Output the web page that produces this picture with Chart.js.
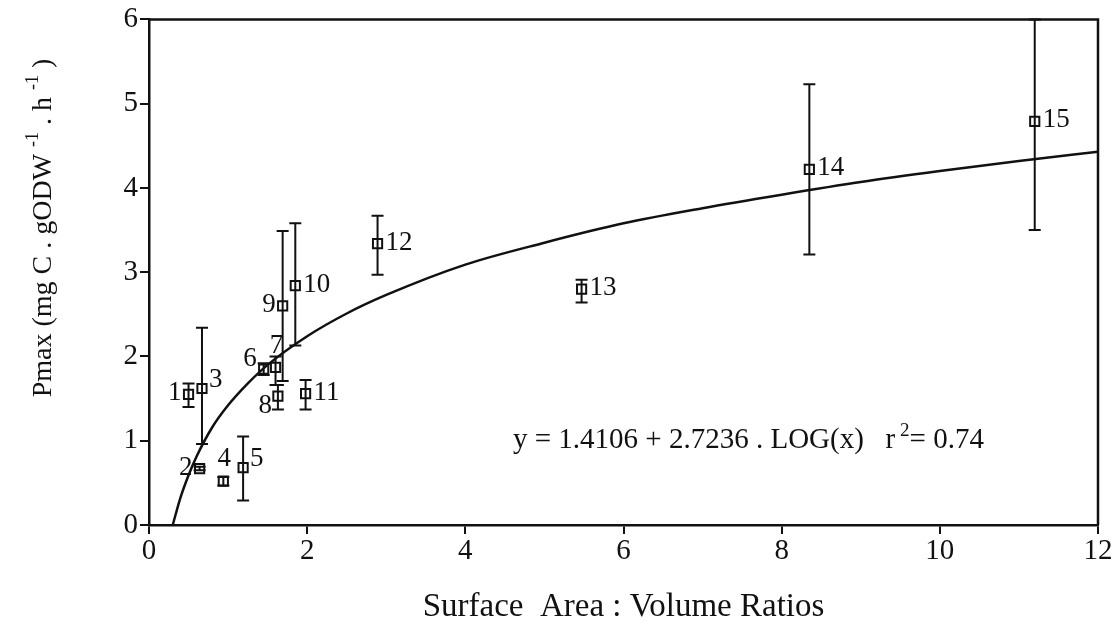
<!DOCTYPE html>
<html>
<head>
<meta charset="utf-8">
<script src="https://cdn.jsdelivr.net/npm/chart.js@4/dist/chart.umd.min.js"></script>
<style>
  html, body { margin: 0; padding: 0; background: #fff; }
  #wrap { width: 1115px; height: 631px; }
</style>
</head>
<body>
<div id="wrap"><canvas id="chart" width="1115" height="631"></canvas></div>
<script>
// sample numbers 1..15
const sampleIds = ['1', '2', '3', '4', '5', '6', '7', '8', '9', '10', '11', '12', '13', '14', '15'];
const saRatios = [0.50, 0.64, 0.67, 0.94, 1.19, 1.45, 1.60, 1.63, 1.69, 1.85, 1.98, 2.89, 5.47, 8.35, 11.20];
const pmaxValues = [1.55, 0.67, 1.62, 0.52, 0.68, 1.85, 1.87, 1.53, 2.60, 2.84, 1.56, 3.34, 2.80, 4.22, 4.79];
const pmaxHigh = [1.68, 0.69, 2.34, 0.57, 1.05, 1.92, 2.00, 1.66, 3.49, 3.58, 1.72, 3.67, 2.91, 5.23, 6.00];
const pmaxLow = [1.40, 0.65, 0.96, 0.47, 0.29, 1.78, 1.66, 1.37, 1.71, 2.13, 1.37, 2.97, 2.64, 3.21, 3.50];

// fitted curve
const fitX = [0.3, 0.4, 0.5, 0.6, 0.8, 1.0, 1.25, 1.5, 2, 2.5, 3, 4, 5, 6, 7, 8, 9, 10, 11, 12];
const fitY = [0.0, 0.33, 0.59, 0.81, 1.16, 1.42, 1.68, 1.90, 2.24, 2.51, 2.73, 3.09, 3.35, 3.58, 3.76, 3.92, 4.07, 4.20, 4.32, 4.43];

const xTicks = [0, 2, 4, 6, 8, 10, 12];
const yTicks = [0, 1, 2, 3, 4, 5, 6];

const serif = '"Liberation Serif", "DejaVu Serif", serif';

// where each sample number sits relative to its marker
const labelSide = {
    '1': 'left', '2': 'left', '3': 'rightUp', '4': 'up', '5': 'rightUp',
    '6': 'leftUp', '7': 'up', '8': 'leftDown', '9': 'left', '10': 'right',
    '11': 'right', '12': 'right', '13': 'right', '14': 'right', '15': 'right'
};

const errorBars = {
    id: 'errorBars',
    afterDatasetsDraw(chart) {
        const { ctx, scales: { x, y } } = chart;
        ctx.save();
        ctx.strokeStyle = '#111';
        ctx.lineWidth = 2;
        saRatios.forEach((r, i) => {
            const px = x.getPixelForValue(r);
            const top = y.getPixelForValue(pmaxHigh[i]);
            const bot = y.getPixelForValue(pmaxLow[i]);
            ctx.beginPath();
            ctx.moveTo(px, top); ctx.lineTo(px, bot);
            ctx.moveTo(px - 6, top); ctx.lineTo(px + 6, top);
            ctx.moveTo(px - 6, bot); ctx.lineTo(px + 6, bot);
            ctx.stroke();
        });
        ctx.restore();
    }
};

const pointNumbers = {
    id: 'pointNumbers',
    afterDraw(chart) {
        const { ctx, scales: { x, y } } = chart;
        ctx.save();
        ctx.fillStyle = '#111';
        ctx.font = '27px ' + serif;
        ctx.textBaseline = 'middle';
        sampleIds.forEach((id, i) => {
            const px = x.getPixelForValue(saRatios[i]);
            const py = y.getPixelForValue(pmaxValues[i]);
            let dx = 8, dy = -1, align = 'left';
            switch (labelSide[id]) {
                case 'left': dx = -7; align = 'right'; break;
                case 'leftUp': dx = -7; dy = -10; align = 'right'; break;
                case 'leftDown': dx = -6; dy = 10; align = 'right'; break;
                case 'rightUp': dx = 7; dy = -9; break;
                case 'up': dx = 1; dy = -22; align = 'center'; break;
            }
            ctx.textAlign = align;
            ctx.fillText(id, px + dx, py + dy);
        });
        ctx.restore();
    }
};

const frameAndText = {
    id: 'frameAndText',
    afterDraw(chart) {
        const { ctx, chartArea: a } = chart;
        ctx.save();
        ctx.strokeStyle = '#111';
        ctx.lineWidth = 2.5;
        ctx.beginPath();
        ctx.moveTo(a.left, a.top); ctx.lineTo(a.right, a.top); ctx.lineTo(a.right, a.bottom);
        ctx.stroke();

        ctx.fillStyle = '#111';
        ctx.textBaseline = 'alphabetic';

        // equation
        let tx = 513, ty = 448;
        const parts = [['y = 1.4106 + 2.7236 . LOG(x)   r', 29, 0], [' 2', 19, -12], ['= 0.74', 29, 0]];
        parts.forEach(([t, s, off]) => {
            ctx.font = s + 'px ' + serif;
            ctx.textAlign = 'left';
            ctx.fillText(t, tx, ty + off);
            tx += ctx.measureText(t).width;
        });

        // y axis title, rotated
        ctx.translate(41, 228);
        ctx.rotate(-Math.PI / 2);
        const ytitle = [['Pmax (mg C . gODW ', 28, 0], ['-1', 18, -13], [' . h ', 28, 0], ['-1', 18, -13], [' )', 28, 0]];
        let total = 0;
        ytitle.forEach(([t, s]) => { ctx.font = s + 'px ' + serif; total += ctx.measureText(t).width; });
        let ox = -total / 2;
        ytitle.forEach(([t, s, off]) => {
            ctx.font = s + 'px ' + serif;
            ctx.fillText(t, ox, 10 + off);
            ox += ctx.measureText(t).width;
        });
        ctx.restore();
    }
};

new Chart(document.getElementById('chart').getContext('2d'), {
    type: 'scatter',
    data: {
        datasets: [
            {
                label: 'fit',
                type: 'line',
                data: fitX.map((v, i) => ({ x: v, y: fitY[i] })),
                borderColor: '#111',
                borderWidth: 2.5,
                pointRadius: 0,
                cubicInterpolationMode: 'monotone',
                fill: false
            },
            {
                label: 'Pmax',
                data: saRatios.map((v, i) => ({ x: v, y: pmaxValues[i] })),
                pointStyle: 'rect',
                pointRadius: 6.5,
                pointBorderWidth: 2,
                pointBackgroundColor: '#fff',
                pointBorderColor: '#111'
            }
        ]
    },
    options: {
        responsive: false,
        animation: false,
        devicePixelRatio: 1,
        layout: { padding: { top: 14, right: 17, left: 0, bottom: 0 } },
        plugins: { legend: { display: false }, tooltip: { enabled: false } },
        scales: {
            x: {
                type: 'linear', min: 0, max: 12,
                afterBuildTicks: s => { s.ticks = xTicks.map(v => ({ value: v })); },
                afterFit: s => { s.height = 106; },
                border: { display: true, color: '#111', width: 2.5 },
                grid: { drawOnChartArea: false, tickLength: 9, tickColor: '#111', lineWidth: 2 },
                ticks: { color: '#111', font: { family: serif, size: 29 }, padding: 0 },
                title: {
                    display: true, text: 'Surface  Area : Volume Ratios', color: '#111',
                    font: { family: serif, size: 33 }, padding: { top: 10 }
                }
            },
            y: {
                type: 'linear', min: 0, max: 6,
                afterBuildTicks: s => { s.ticks = yTicks.map(v => ({ value: v })); },
                afterFit: s => { s.width = 149; },
                border: { display: true, color: '#111', width: 2.5 },
                grid: { drawOnChartArea: false, tickLength: 9, tickColor: '#111', lineWidth: 2 },
                ticks: { color: '#111', font: { family: serif, size: 29 }, padding: 2 }
            }
        }
    },
    plugins: [errorBars, pointNumbers, frameAndText]
});
</script>
</body>
</html>
